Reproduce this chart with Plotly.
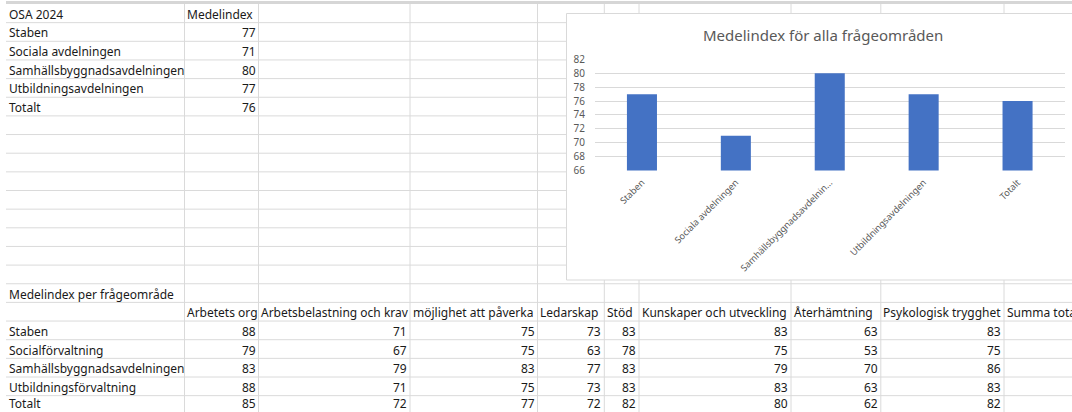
import plotly.graph_objects as go

# ---------------- data ----------------
chart_categories = ["Staben", "Sociala avdelningen", "Samhällsbyggnadsavdelningen",
                    "Utbildningsavdelningen", "Totalt"]
chart_values = [77, 71, 80, 77, 76]
chart_tick_labels = ["Staben", "Sociala avdelningen", "Samhällsbyggnadsavdelnin...",
                     "Utbildningsavdelningen", "Totalt"]
chart_title = "Medelindex för alla frågeområden"

top_table_title = "OSA 2024"
top_table_header = "Medelindex"

area_rows = ["Staben", "Socialförvaltning", "Samhällsbyggnadsavdelningen",
             "Utbildningsförvaltning", "Totalt"]
area_columns = ["Arbetets org", "Arbetsbelastning och krav", "möjlighet att påverka",
                "Ledarskap", "Stöd", "Kunskaper och utveckling", "Återhämtning",
                "Psykologisk trygghet", "Summa totalt"]
arbetets_org = [88, 79, 83, 88, 85]
arbetsbelastning = [71, 67, 79, 71, 72]
mojlighet = [75, 75, 83, 75, 77]
ledarskap = [73, 63, 77, 73, 72]
stod = [83, 78, 83, 83, 82]
kunskaper = [83, 75, 79, 83, 80]
aterhamtning = [63, 53, 70, 63, 62]
psykologisk = [83, 75, 86, 83, 82]
area_title = "Medelindex per frågeområde"

# ---------------- geometry (pixels) ----------------
W, H = 1072, 412
FONT = "Noto Sans"
CELL_SIZE = 12
GRID = "#dadada"
TEXT = "#1a1a1a"

row_top = 4.0
row_h = 18.65
n_rows = 22
col_lines = [184.5, 258.5, 410.0, 537.5, 604.3, 639.0, 791.0, 880.8, 1004.0]
col_left = [6.0] + col_lines
col_right = col_lines + [1150.0]


def X(p):
    return p / W


def Y(p):
    return 1 - p / H


def row_center(i):
    c = row_top + (i + 0.5) * row_h + 1.0
    return min(c, H - 8.6)  # keep the last row's text box inside the page


shapes = []
# header band at top
shapes.append(dict(type="rect", xref="paper", yref="paper", x0=X(6), x1=X(W), y0=Y(1), y1=Y(4),
                   fillcolor="#d6d6d6", line=dict(width=0), layer="below"))
# horizontal grid lines
for i in range(1, n_rows + 1):
    y = row_top + i * row_h
    shapes.append(dict(type="line", xref="paper", yref="paper", x0=X(6), x1=X(W),
                       y0=Y(y), y1=Y(y), line=dict(color=GRID, width=1), layer="below"))
# vertical grid lines
for c in col_lines:
    shapes.append(dict(type="line", xref="paper", yref="paper", x0=X(c), x1=X(c),
                       y0=Y(4), y1=Y(H), line=dict(color=GRID, width=1), layer="below"))
# chart box (covers grid)
shapes.append(dict(type="rect", xref="paper", yref="paper", x0=X(566.5), x1=X(W + 10),
                   y0=Y(280), y1=Y(13.5), fillcolor="white",
                   line=dict(color="#d9d9d9", width=1), layer="below"))

annotations = []


def cell(text, col, row, align="left"):
    if align == "left":
        x = col_left[col] + 2.5
    else:
        x = col_right[col] - 3
    annotations.append(dict(text=str(text), x=X(x), y=Y(row_center(row)),
                            xref="paper", yref="paper", xanchor=align, yanchor="middle",
                            showarrow=False, borderpad=0, borderwidth=0,
                            font=dict(family=FONT, size=CELL_SIZE, color=TEXT)))


# top table
cell(top_table_title, 0, 0)
cell(top_table_header, 1, 0)
for i, (name, v) in enumerate(zip(chart_categories, chart_values)):
    cell(name, 0, i + 1)
    cell(v, 1, i + 1, "right")

# lower table
cell(area_title, 0, 15)
for j, name in enumerate(area_columns):
    cell(name, j + 1, 16)
series = [arbetets_org, arbetsbelastning, mojlighet, ledarskap, stod, kunskaper,
          aterhamtning, psykologisk]
for i, name in enumerate(area_rows):
    cell(name, 0, 17 + i)
    for j, s in enumerate(series):
        cell(s[i], j + 1, 17 + i, "right")

# chart title
annotations.append(dict(text=chart_title, x=X(823), y=Y(35), xref="paper", yref="paper",
                        xanchor="center", yanchor="middle", showarrow=False,
                        font=dict(family=FONT, size=15, color="#595959")))

fig = go.Figure(go.Bar(x=chart_categories, y=chart_values,
                       marker=dict(color="#4472C4", line=dict(width=0)),
                       hoverinfo="skip"))

fig.update_layout(
    width=W, height=H, autosize=False,
    margin=dict(l=0, r=0, t=0, b=0, pad=0, autoexpand=False),
    paper_bgcolor="white", plot_bgcolor="rgba(0,0,0,0)",
    showlegend=False, bargap=0.68,
    shapes=shapes, annotations=annotations,
    font=dict(family=FONT, color="#595959"),
    xaxis=dict(domain=[X(595), X(1064.5)], tickvals=chart_categories, ticktext=chart_tick_labels,
               tickangle=-45, tickfont=dict(size=9.2, color="#595959"), showgrid=False,
               showline=False, zeroline=False, ticks="", ticklabelstandoff=4, automargin=False),
    yaxis=dict(domain=[Y(170.5), Y(59.3)], range=[66, 82.02], dtick=2, tick0=66,
               gridcolor="#d9d9d9", gridwidth=1, showline=False, zeroline=False,
               tickfont=dict(size=10, color="#595959"), ticks="", ticklabelstandoff=9,
               automargin=False),
)

fig.write_html(
    "out.html",
    config={"displayModeBar": False, "staticPlot": True},
    post_script="document.body.style.margin='0px';document.body.style.padding='0px';"
                "document.documentElement.style.overflow='hidden';",
)
